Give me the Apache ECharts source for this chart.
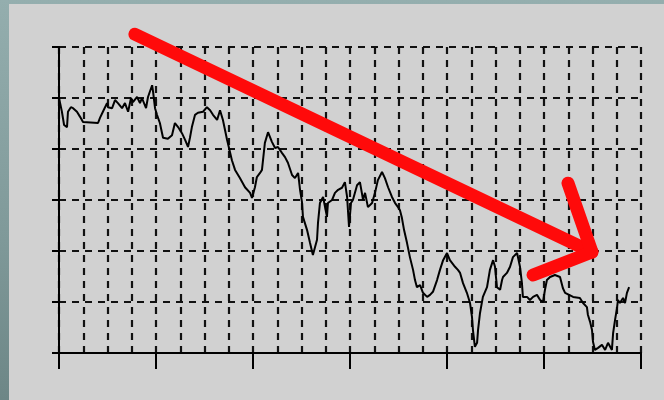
<!DOCTYPE html>
<html>
<head>
<meta charset="utf-8">
<script src="https://cdn.jsdelivr.net/npm/echarts@6/dist/echarts.min.js"></script>
<style>
html,body{margin:0;padding:0;width:664px;height:400px;overflow:hidden;
  background:linear-gradient(180deg,#94aeae 0%,#7f9999 60%,#6d8686 100%);}
#chart{position:absolute;left:9px;top:4px;width:655px;height:396px;background:#d1d1d1;}
</style>
</head>
<body>
<div id="chart"></div>
<script>
// Series values: [x (0-240), value (0-60)]
var xValues = [0,1.2,2.1,3.3,3.7,4.9,5.8,7.4,8.7,9.9,10.7,16.1,16.9,18.1,19.8,20.2,21.9,23.1,24.3,26.0,27.2,28.5,29.7,30.5,32.2,33.4,34.2,35.9,36.7,38.4,38.8,39.6,40.4,41.6,42.5,42.9,44.9,46.6,47.8,49.1,50.7,52.0,53.2,54.0,54.8,56.1,57.3,59.4,61.0,62.3,63.5,65.2,66.4,67.6,69.3,70.5,71.3,72.6,74.6,76.7,78.8,79.6,80.8,81.6,82.9,83.7,84.9,86.2,87.8,89.1,90.3,92.0,93.2,94.4,96.1,97.3,98.6,99.4,100.2,100.6,102.3,103.5,104.7,106.4,106.8,107.6,108.9,110.5,110.9,112.6,113.8,115.1,116.7,117.9,118.8,119.6,120.4,121.2,122.9,124.1,125.4,126.2,127.4,129.1,130.3,131.5,133.2,134.4,135.7,137.3,138.6,139.8,140.6,141.4,142.3,143.5,144.7,146.0,146.8,147.6,148.9,150.1,151.8,153.0,154.2,155.9,157.1,158.4,160.0,161.2,163.3,164.5,165.4,166.6,168.2,169.5,170.3,170.7,171.5,172.4,172.8,173.6,174.8,176.5,177.7,179.0,179.8,180.6,181.9,182.7,183.1,184.7,186.0,187.2,188.9,190.1,190.9,191.3,193.0,194.2,195.5,197.1,198.4,199.6,200.4,201.2,202.5,204.5,206.6,207.8,208.7,212.0,214.8,216.1,217.7,218.1,219.0,219.8,220.2,221.0,222.3,223.9,225.2,226.4,228.0,228.5,229.3,230.1,230.5,231.3,232.6,233.4,234.2,235.1];
var yValues = [50.0,47.3,44.7,44.3,47.3,48.2,48.0,47.3,46.3,45.3,45.1,45.1,46.1,47.3,49.0,48.2,48.0,49.6,49.0,48.0,49.0,47.3,50.0,49.2,50.2,49.0,50.0,48.0,50.2,52.5,51.2,48.0,46.7,45.1,43.1,42.2,42.0,42.7,45.1,44.3,43.1,41.8,40.4,42.2,44.3,46.7,47.1,47.3,48.2,47.6,46.7,45.7,47.6,45.7,41.8,39.4,37.8,35.9,34.3,32.5,31.4,30.4,32.5,34.5,35.3,35.9,41.2,43.3,41.4,40.2,40.4,39.2,38.4,37.3,34.9,34.3,35.3,32.0,29.6,26.7,24.1,21.6,19.2,22.2,25.5,29.4,30.6,26.7,29.4,30.0,31.4,32.0,32.4,33.5,30.6,24.7,29.4,30.0,32.9,33.5,30.0,31.4,28.6,29.4,31.4,33.9,35.5,34.3,32.5,30.6,29.4,28.6,28.0,26.5,24.1,21.6,18.8,16.3,14.3,12.9,13.3,11.8,11.0,11.4,12.0,14.3,16.3,18.2,19.6,18.2,16.9,16.3,15.7,13.7,11.8,9.8,7.1,4.5,1.2,2.0,4.5,7.8,11.0,12.9,16.3,18.2,16.9,12.9,12.4,14.3,14.9,15.7,16.9,18.8,19.6,16.9,13.7,11.0,11.0,10.4,11.0,11.4,10.4,10.0,12.4,14.3,14.9,15.3,14.9,12.7,11.8,11.0,10.8,9.8,9.0,7.5,6.1,4.5,2.2,0.6,1.0,1.6,0.6,2.0,0.6,3.9,6.5,8.8,10.4,9.8,10.8,9.8,11.8,12.9];
// Annotation arrow, in data coordinates
var arrowShaft = [[31.3, 62.5], [219.8, 19.8]];
var arrowHead = [[209.9, 33.3], [219.8, 19.8], [195.5, 15.3]];
// Axis ranges
var xMin = 0, xMax = 240, xStep = 40;
var yMin = 0, yMax = 60, yStep = 10;

var seriesData = xValues.map(function (x, i) { return [x, yValues[i]]; });

var dashStyle = { color: '#111', width: 2.2, type: [7, 6] };

var chart = echarts.init(document.getElementById('chart'), null, { renderer: 'canvas' });
chart.setOption({
  backgroundColor: 'transparent',
  animation: false,
  grid: { left: 50, top: 43, right: 23, bottom: 47 },
  xAxis: {
    type: 'value', min: xMin, max: xMax, interval: xStep,
    axisLine: { show: true, onZero: false, lineStyle: { color: '#000', width: 2 } },
    axisTick: { show: true, inside: false, length: 16, lineStyle: { color: '#000', width: 2 } },
    axisLabel: { show: false },
    splitLine: { show: true, lineStyle: dashStyle },
    minorTick: { show: false, splitNumber: 4 },
    minorSplitLine: { show: true, lineStyle: dashStyle }
  },
  yAxis: {
    type: 'value', min: yMin, max: yMax, interval: yStep,
    axisLine: { show: true, onZero: false, lineStyle: { color: '#000', width: 2 } },
    axisTick: { show: true, inside: false, length: 7, lineStyle: { color: '#000', width: 2 } },
    axisLabel: { show: false },
    splitLine: { show: true, lineStyle: dashStyle }
  },
  series: [
    {
      type: 'line', data: seriesData, symbol: 'none', silent: true,
      lineStyle: { color: '#000', width: 2 }, z: 3
    },
    {
      type: 'line', data: arrowShaft, symbol: 'none', clip: false, silent: true,
      lineStyle: { color: '#ff0a0a', width: 13, cap: 'round', join: 'round' }, z: 5
    },
    {
      type: 'line', data: arrowHead, symbol: 'none', clip: false, silent: true,
      lineStyle: { color: '#ff0a0a', width: 13, cap: 'round', join: 'round' }, z: 5
    }
  ]
});
</script>
</body>
</html>
